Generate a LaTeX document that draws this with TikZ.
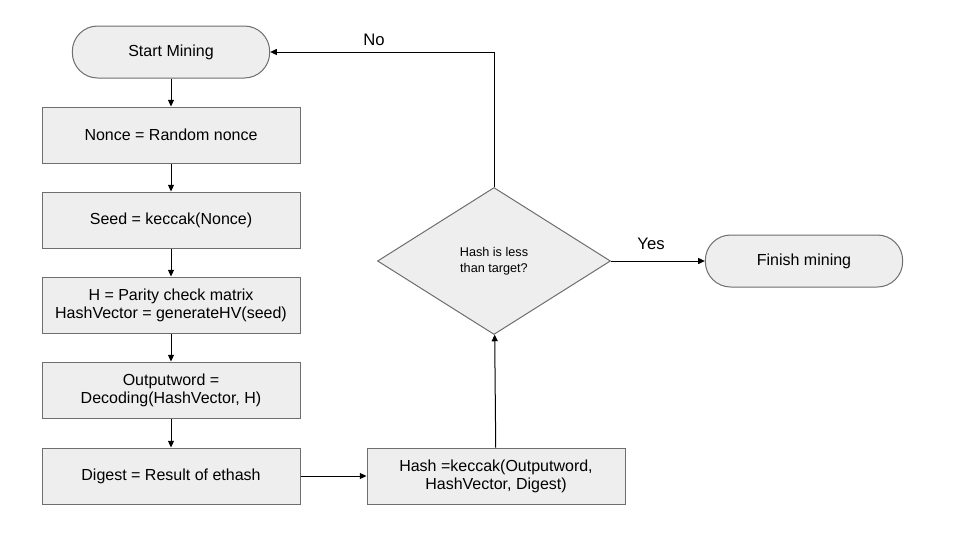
\documentclass[tikz,border=0pt]{standalone}
\usepackage{fontspec}
\setmainfont{Liberation Sans}
\usepackage{tikz}
\usetikzlibrary{arrows.meta, positioning, shapes.geometric}
\definecolor{boxFill}{RGB}{238,238,238}
\definecolor{boxLine}{RGB}{110,110,110}
\tikzset{
    proc/.style={rectangle, draw=boxLine, fill=boxFill, line width=0.75pt, align=center,
                 minimum width=193.5pt, minimum height=42pt, inner sep=1pt, font=\fontsize{12}{13.5}\selectfont},
    term/.style={rectangle, rounded corners=19pt, draw=boxLine, fill=boxFill, line width=0.75pt,
                 minimum width=148pt, minimum height=39pt, font=\fontsize{12}{13.5}\selectfont},
    decide/.style={diamond, draw=boxLine, fill=boxFill, line width=0.75pt, align=center,
                   minimum width=174.75pt, minimum height=110.25pt, inner sep=0pt, font=\fontsize{9.5}{12}\selectfont},
    flow/.style={-{Triangle[length=5pt, width=4.5pt]}, line width=0.75pt, black},
    lbl/.style={font=\fontsize{12.5}{14}\selectfont}
}
\begin{document}
\begin{tikzpicture}[x=0.75pt, y=-0.75pt]
    \useasboundingbox (0,0) rectangle (960,540);
    \node[term] (start) at (171,52) {Start Mining};
    \node[proc] (nonce) at (171,135) {Nonce = Random nonce};
    \node[proc] (seed) at (171,220) {Seed = keccak(Nonce)};
    \node[proc] (parity) at (171,305) {H = Parity check matrix\\HashVector = generateHV(seed)};
    \node[proc] (decode) at (171,390) {Outputword =\\Decoding(HashVector, H)};
    \node[proc] (digest) at (171,476) {Digest = Result of ethash};
    \node[proc] (hash) at (496,476) {Hash =keccak(Outputword,\\HashVector, Digest)};
    \node[decide] (check) at (494,261) {Hash is less\\than target?};
    \node[term] (finish) at (804,261) {Finish mining};
    \node[lbl] (no) at (374,40) {No};
    \node[lbl] (yes) at (651,244) {Yes};
    % main column
    \draw[flow] (start) -- (nonce);
    \draw[flow] (nonce) -- (seed);
    \draw[flow] (seed) -- (parity);
    \draw[flow] (parity) -- (decode);
    \draw[flow] (decode) -- (digest);
    \draw[flow] (digest) -- (hash);
    \draw[flow] (hash) -- (check);
    % decision
    \draw[flow] (check) -- (finish);
    \draw[flow] (check.north) |- (start.east);
\end{tikzpicture}
\end{document}
